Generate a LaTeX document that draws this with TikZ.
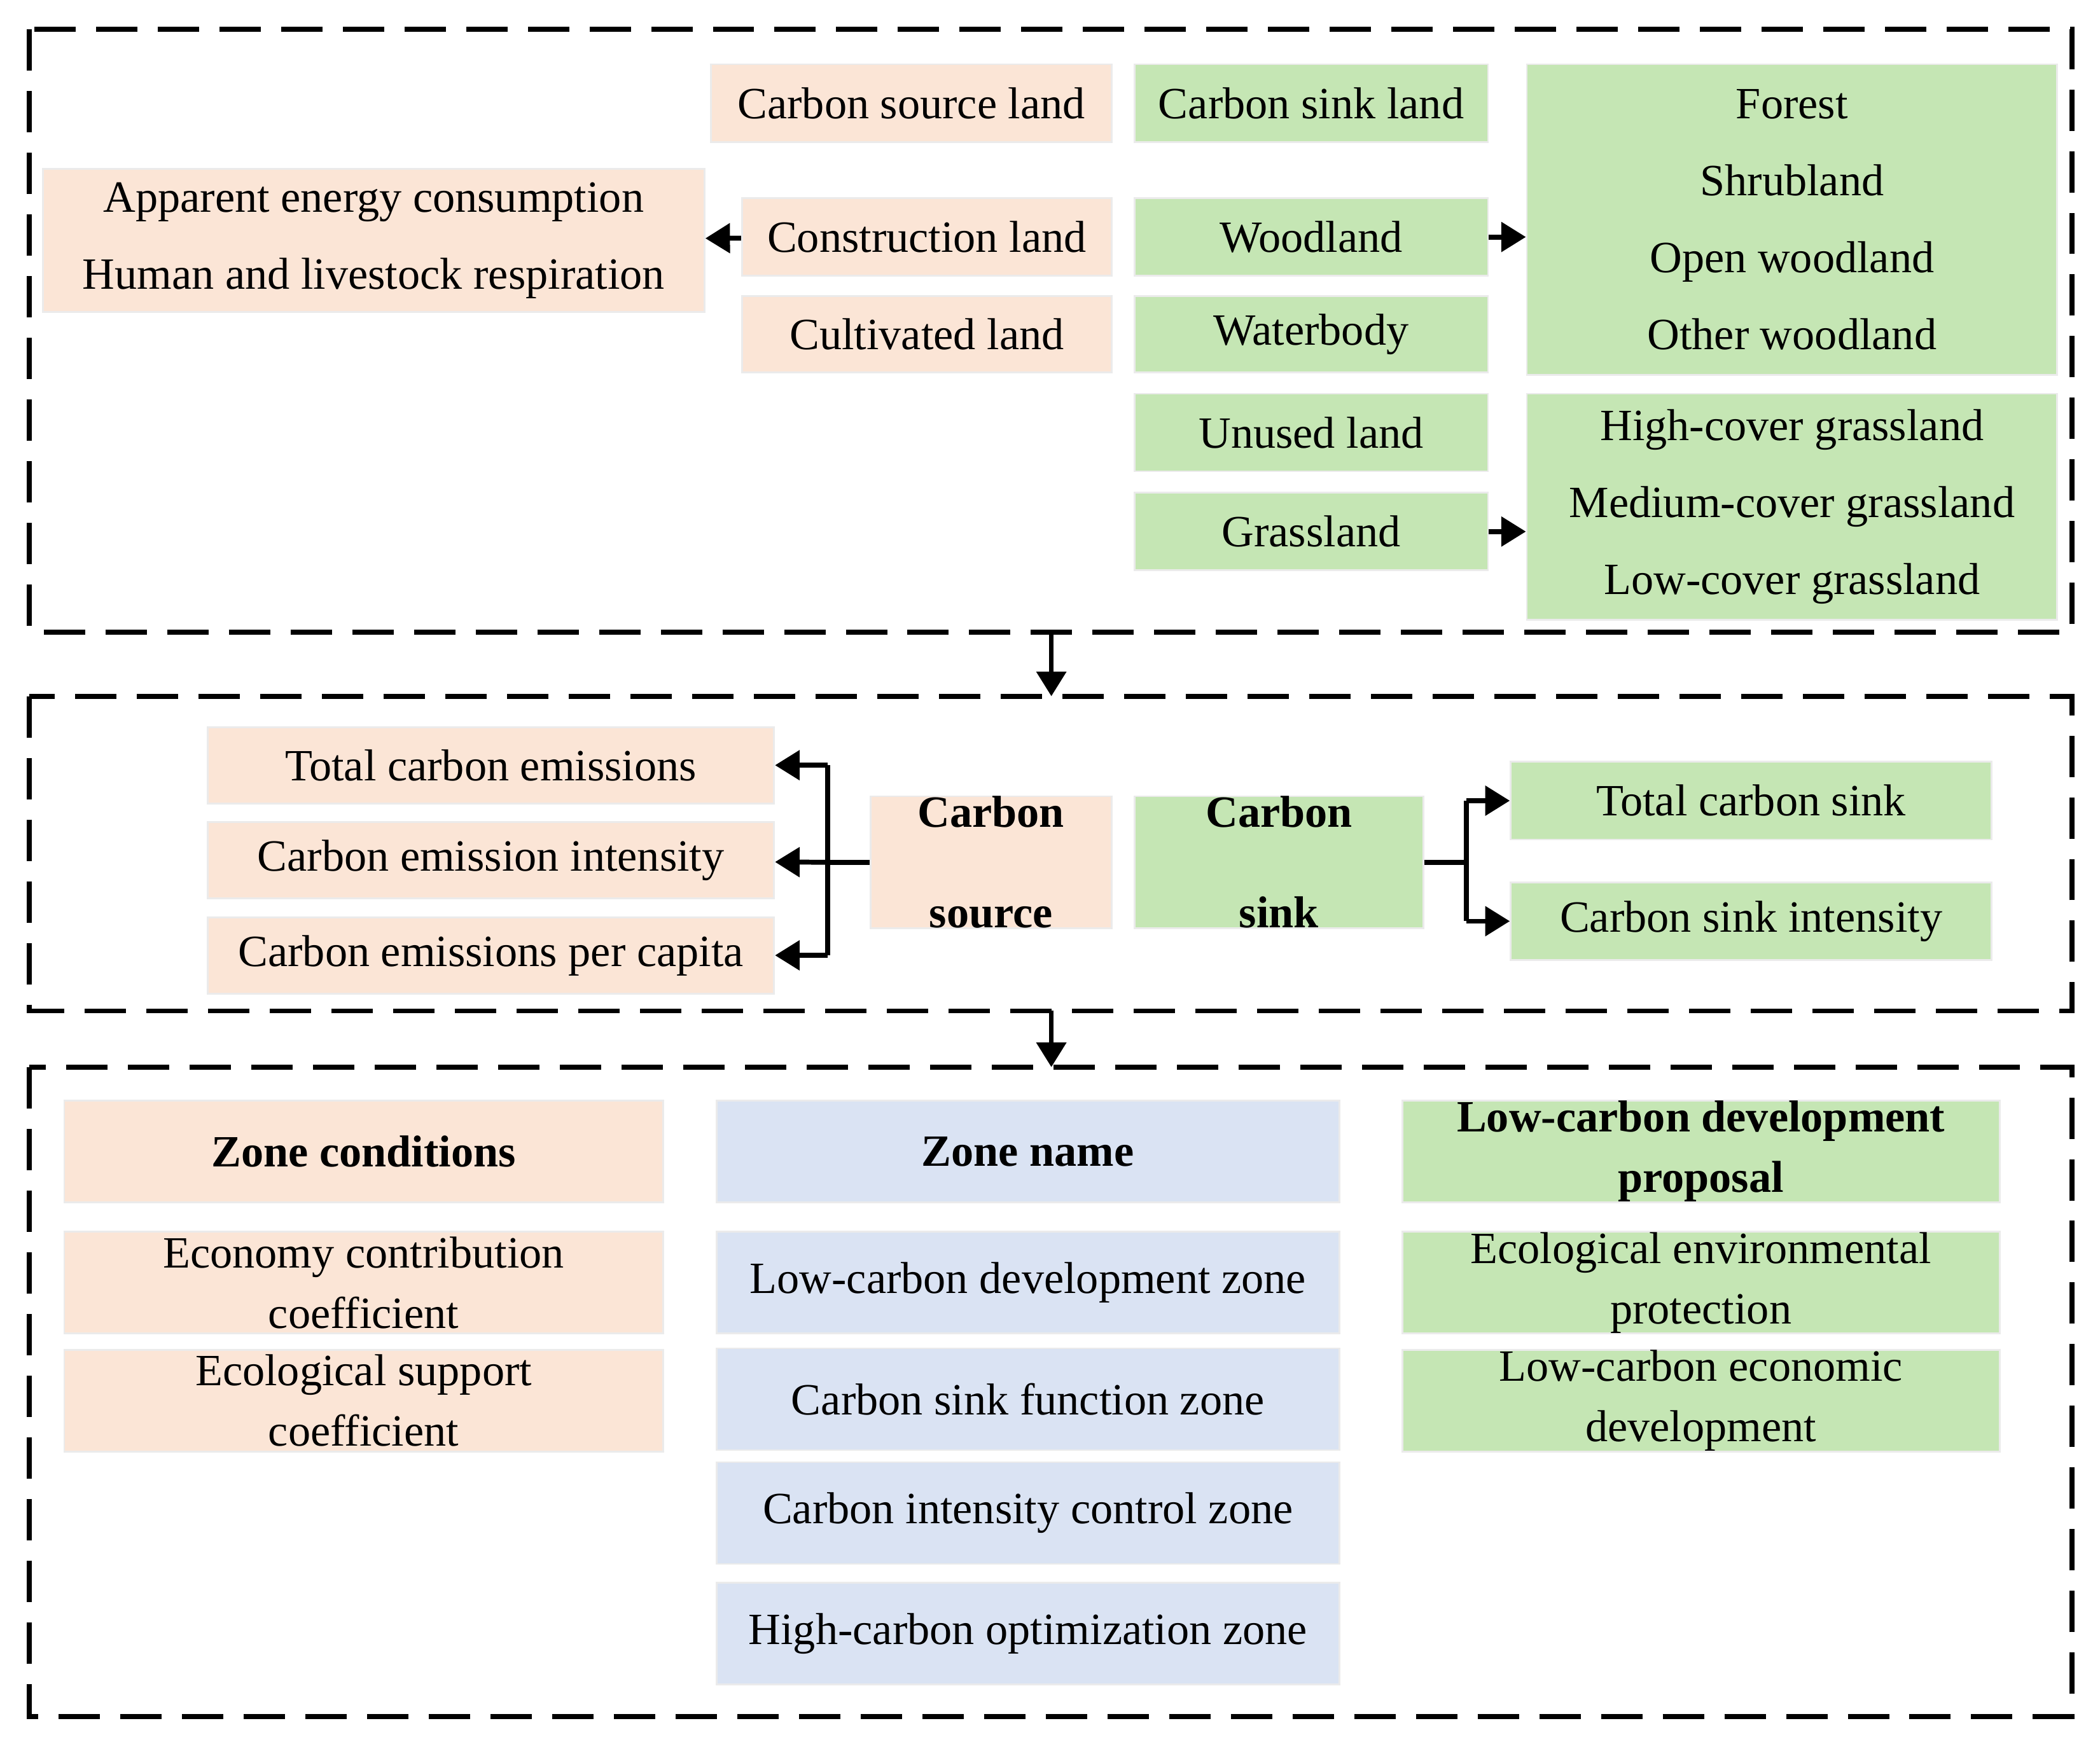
\documentclass[tikz,border=0pt]{standalone}
\usepackage{fontspec}
\setmainfont{Liberation Serif}
\usetikzlibrary{arrows.meta}
\definecolor{pch}{HTML}{FBE5D6}
\definecolor{grn}{HTML}{C5E6B4}
\definecolor{blu}{HTML}{DAE3F3}
\newcommand{\mybox}[7]{%
 \pgfmathsetmacro{\cx}{(#3+#5)/2}\pgfmathsetmacro{\cy}{(#4+#6)/2}%
 \pgfmathsetmacro{\ww}{(#5-#3)*0.021052}\pgfmathsetmacro{\hh}{(#6-#4)*0.021052}%
 \node[#1,minimum width=\ww cm,minimum height=\hh cm] (#2) at (\cx,\cy) {#7};}
\begin{document}
\begin{tikzpicture}[x=0.021052cm,y=-0.021052cm,
 bx/.style={inner sep=0pt,align=center,font=\fontsize{20}{27}\selectfont,draw=black!8,line width=0.8pt},
 p/.style={bx,fill=pch}, g/.style={bx,fill=grn}, b/.style={bx,fill=blu},
 wide/.style={font=\fontsize{20}{34.5}\selectfont},
 bf/.style={font=\bfseries\fontsize{20}{27}\selectfont},
 fr/.style={line width=2.2pt,dash pattern=on 0.65cm off 0.32cm},
 ln/.style={line width=2.2pt},
 ar/.style={line width=2.2pt,-{Triangle[length=11pt,width=13pt]}}]
\useasboundingbox (0,0) rectangle (1568,1306);
% frames
\draw[fr] (22,22) rectangle (1547,472);
\draw[fr] (22,520) rectangle (1547,755);
\draw[fr] (22,797) rectangle (1547,1282);
% top
\mybox{p}{csl}{531}{48}{830}{106}{Carbon source land}
\mybox{g}{ksl}{847}{48}{1111}{106}{Carbon sink land}
\mybox{g,wide}{fb}{1140}{48}{1536}{280}{Forest\\Shrubland\\Open woodland\\Other woodland}
\mybox{p,wide}{ae}{32}{126}{526}{233}{Apparent energy consumption\\Human and livestock respiration}
\mybox{p}{con}{554}{148}{830}{206}{Construction land}
\mybox{p}{cul}{554}{221}{830}{278}{Cultivated land}
\mybox{g}{wl}{847}{148}{1111}{206}{Woodland}
\mybox{g}{wb}{847}{221}{1111}{278}{Waterbody}
\mybox{g}{ul}{847}{294}{1111}{352}{Unused land}
\mybox{g}{gl}{847}{368}{1111}{426}{Grassland}
\mybox{g,wide}{gb}{1140}{294}{1536}{463}{High-cover grassland\\Medium-cover grassland\\Low-cover grassland}
\draw[ar] (con) -- (ae);
\draw[ar] (wl) -- (fb.west|-wl);
\draw[ar] (gl) -- (gb.west|-gl);
\coordinate (t1) at (785,472); \coordinate (t2) at (785,520);
\coordinate (t3) at (785,755); \coordinate (t4) at (785,797);
\draw[ar] (t1) -- (t2);
\draw[ar] (t3) -- (t4);
% middle
\mybox{p}{tce}{155}{543}{578}{600}{Total carbon emissions}
\mybox{p}{cei}{155}{614}{578}{671}{Carbon emission intensity}
\mybox{p}{cep}{155}{685}{578}{742}{Carbon emissions per capita}
\mybox{p,font=\bfseries\fontsize{20}{45}\selectfont}{cs}{650}{600}{830}{688}{Carbon\\source}
\mybox{g,font=\bfseries\fontsize{20}{45}\selectfont}{ck}{847}{600}{1063}{688}{Carbon\\sink}
\mybox{g}{tcs}{1128}{569}{1487}{627}{Total carbon sink}
\mybox{g}{csi}{1128}{659}{1487}{717}{Carbon sink intensity}
\coordinate (j1) at (618,644);
\coordinate (j2) at (1095,644);
\draw[ln] (cs) -- (j1);
\draw[ln] (j1|-tce) -- (j1|-cep);
\draw[ar] (j1|-tce) -- (tce);
\draw[ar] (j1) -- (cei);
\draw[ar] (j1|-cep) -- (cep);
\draw[ln] (ck) -- (j2);
\draw[ln] (j2|-tcs) -- (j2|-csi);
\draw[ar] (j2|-tcs) -- (tcs);
\draw[ar] (j2|-csi) -- (csi);
% bottom
\mybox{p,bf}{zc}{48}{822}{495}{898}{Zone conditions}
\mybox{p}{ecc}{48}{920}{495}{996}{Economy contribution\\coefficient}
\mybox{p}{esc}{48}{1008}{495}{1084}{Ecological support\\coefficient}
\mybox{b,bf}{zn}{535}{822}{1000}{898}{Zone name}
\mybox{b}{z1}{535}{920}{1000}{996}{Low-carbon development zone}
\mybox{b}{z2}{535}{1007}{1000}{1083}{Carbon sink function zone}
\mybox{b}{z3}{535}{1092}{1000}{1168}{Carbon intensity control zone}
\mybox{b}{z4}{535}{1182}{1000}{1258}{High-carbon optimization zone}
\mybox{g,bf}{lp}{1047}{822}{1493}{898}{Low-carbon development\\proposal}
\mybox{g}{eep}{1047}{920}{1493}{996}{Ecological environmental\\protection}
\mybox{g}{led}{1047}{1008}{1493}{1084}{Low-carbon economic\\development}
\end{tikzpicture}
\end{document}
